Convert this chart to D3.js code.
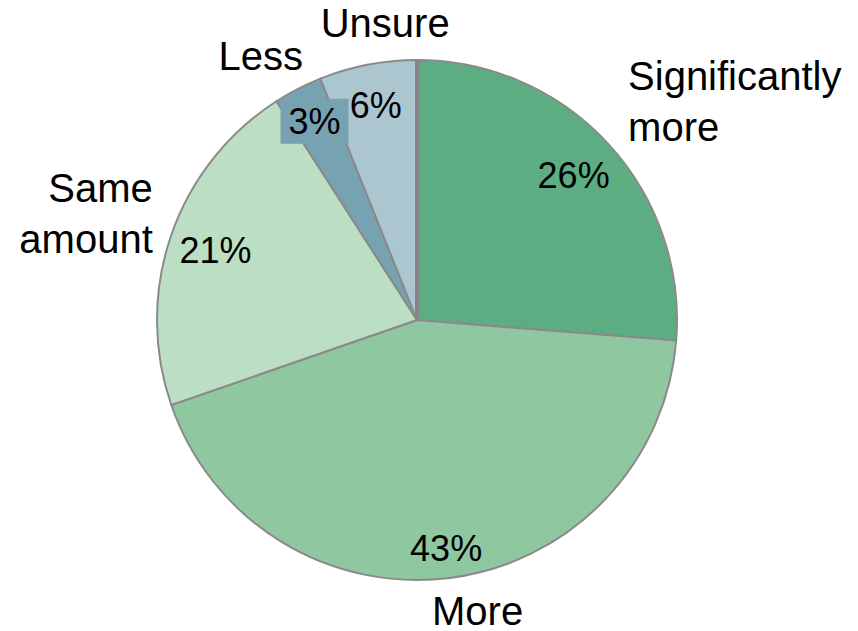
<!DOCTYPE html>
<html>
<head>
<meta charset="utf-8">
<script src="https://cdn.jsdelivr.net/npm/d3@7"></script>
<style>
  html, body { margin: 0; padding: 0; background: #fff; }
  svg { display: block; font-family: "Liberation Sans", Arial, sans-serif; }
</style>
</head>
<body>
<svg id="chart" width="858" height="631"></svg>
<script>
// Survey answers, clockwise from 12 o'clock
const categories = ["Significantly more", "More", "Same amount", "Less", "Unsure"];
const shares = [26, 43, 21, 3, 6];
const sliceColors = ["#5cae82", "#8fc7a0", "#bcdfc4", "#77a2b2", "#abc6cf"];

// Label placement: category text lines, anchor side, polar offset from the slice middle
const categoryLines = [["Significantly", "more"], ["More"], ["Same", "amount"], ["Less"], ["Unsure"]];
const categoryAnchor = ["start", "middle", "end", "middle", "middle"];
const categoryAngleShift = [-3.3, -4.5, 2.9, -3.3, 4.8];   // degrees
const categoryRadiusPad = [44, 37, 25, 47, 39];           // px beyond the rim
const valueRadius = [0.82, 0.885, 0.82, 0.86, 0.84];      // fraction of radius

const width = 858, height = 631;
const cx = 417, cy = 320, radius = 260;
const catSize = 40, valSize = 36, lineGap = 51;

const svg = d3.select("#chart");
const g = svg.append("g").attr("transform", `translate(${cx},${cy})`);

const pie = d3.pie().sort(null).value(d => d)(shares);
const arc = d3.arc().innerRadius(0).outerRadius(radius);

g.selectAll("path.slice")
  .data(pie)
  .join("path")
  .attr("class", "slice")
  .attr("d", arc)
  .attr("fill", (d, i) => sliceColors[i])
  .attr("stroke", "#8a8a8a")
  .attr("stroke-width", 2)
  .attr("stroke-linejoin", "round");

// heavier seam where the first slice begins
const a0 = pie[0].startAngle;
g.append("line")
  .attr("x1", 0).attr("y1", 0)
  .attr("x2", radius * Math.sin(a0)).attr("y2", -radius * Math.cos(a0))
  .attr("stroke", "#868686").attr("stroke-width", 4);

const polar = (ang, r) => [r * Math.sin(ang), -r * Math.cos(ang)];
const mid = d => (d.startAngle + d.endAngle) / 2;

// value labels
pie.forEach((d, i) => {
  const [x, y] = polar(mid(d), radius * valueRadius[i]);
  const txt = shares[i] + "%";
  const lab = g.append("g").attr("transform", `translate(${x},${y})`);
  const t = lab.append("text")
    .attr("text-anchor", "middle").attr("dy", "0.35em")
    .attr("font-size", valSize).attr("fill", "#000").text(txt);
  if (i === 3) {
    // small slice: label sits on a box filled like its slice
    const bb = t.node().getBBox();
    lab.insert("rect", "text")
      .attr("x", bb.x - 8).attr("y", -22.5)
      .attr("width", bb.width + 16).attr("height", 45)
      .attr("fill", sliceColors[i]);
  }
});

// category labels outside the pie
pie.forEach((d, i) => {
  const ang = mid(d) + categoryAngleShift[i] * Math.PI / 180;
  const [x, y] = polar(ang, radius + categoryRadiusPad[i]);
  const lines = categoryLines[i];
  const t = g.append("text")
    .attr("text-anchor", categoryAnchor[i])
    .attr("font-size", catSize).attr("fill", "#000");
  const first = y + 0.35 * catSize - (lines.length - 1) * lineGap / 2;
  lines.forEach((ln, k) => {
    t.append("tspan").attr("x", x).attr("y", first + k * lineGap).text(ln);
  });
});
</script>
</body>
</html>
